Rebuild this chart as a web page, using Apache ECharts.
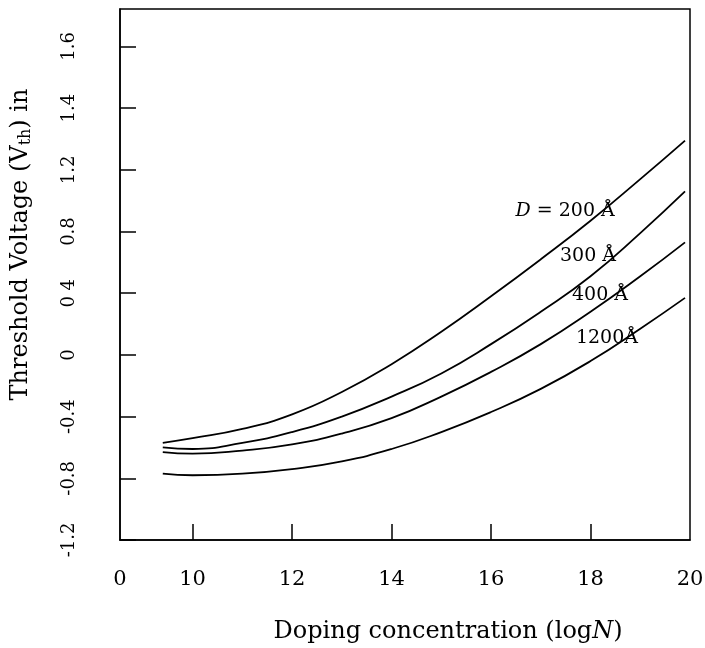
<!DOCTYPE html>
<html>
<head>
<meta charset="utf-8">
<script src="https://cdn.jsdelivr.net/npm/echarts@6/dist/echarts.min.js"></script>
<style>
  html, body { margin: 0; padding: 0; background: #fff; }
  #main { width: 705px; height: 648px; }
</style>
</head>
<body>
<div id="main"></div>
<script>
// doping concentration (logN) sample points
var logN = [9.4, 10, 11, 12, 13, 14, 15, 16, 17, 18, 19, 19.9];

// threshold voltage for each oxide thickness
var vth200  = [-0.57, -0.54, -0.48, -0.385, -0.24, -0.06, 0.15, 0.38, 0.62, 0.87, 1.14, 1.39];
var vth300  = [-0.60, -0.61, -0.57, -0.50, -0.40, -0.27, -0.12, 0.07, 0.28, 0.51, 0.79, 1.06];
var vth400  = [-0.63, -0.64, -0.62, -0.58, -0.51, -0.41, -0.27, -0.11, 0.07, 0.28, 0.51, 0.73];
var vth1200 = [-0.77, -0.78, -0.77, -0.74, -0.69, -0.61, -0.50, -0.37, -0.22, -0.04, 0.17, 0.37];

// tick labels as printed on the figure
var xTickVals = [10, 12, 14, 16, 18];
var xLabelTexts = ['0', '10', '12', '14', '16', '18', '20'];
var yTickVals = [-1.2, -0.8, -0.4, 0, 0.4, 0.8, 1.2, 1.6, 2.0];
var yTickLabels = ['-1.2', '-0.8', '-0.4', '0', '0 4', '0.8', '1.2', '1.4', '1.6'];

var curveNames = ['200', '300', '400', '1200'];

var xBreak = 8.54;   // left end of the broken axis, printed as "0"
var xLabelVals = [xBreak].concat(xTickVals, [20]);

var FONT = 'DejaVu Serif';

function pairs(ys) {
  return logN.map(function (x, i) { return [x, ys[i]]; });
}

function pickLabel(vals, texts, v) {
  for (var i = 0; i < vals.length; i++) {
    if (Math.abs(vals[i] - v) < 1e-6) return texts[i];
  }
  return '';
}

var labelSpots = {
  '200':  { coord: [17.49, 0.93], text: '{i|D} = 200 Å' },
  '300':  { coord: [17.95, 0.64], text: '300 Å' },
  '400':  { coord: [18.19, 0.39], text: '400 Å' },
  '1200': { coord: [18.33, 0.11], text: '1200Å' }
};

var allData = { '200': vth200, '300': vth300, '400': vth400, '1200': vth1200 };

var series = curveNames.map(function (nm) {
  var spot = labelSpots[nm];
  return {
    name: nm + ' Å',
    type: 'line',
    data: pairs(allData[nm]),
    smooth: 0.5,
    showSymbol: false,
    lineStyle: { color: '#000', width: 1.8 },
    markPoint: {
      symbol: 'circle',
      symbolSize: 0,
      silent: true,
      data: [{ coord: spot.coord }],
      label: {
        show: true,
        position: 'inside',
        formatter: spot.text,
        color: '#000',
        fontFamily: FONT,
        fontSize: 19,
        rich: { i: { fontStyle: 'italic', fontFamily: FONT, fontSize: 19, color: '#000' } }
      }
    }
  };
});

var chart = echarts.init(document.getElementById('main'));
chart.setOption({
  backgroundColor: '#fff',
  animation: false,
  grid: {
    left: 120, right: 15, top: 9, bottom: 108,
    outerBoundsMode: 'none',
    show: true, borderColor: '#000', borderWidth: 1.5
  },
  xAxis: {
    type: 'value',
    min: xBreak,
    max: 20,
    name: 'Doping concentration (log{i|N})',
    nameLocation: 'middle',
    nameGap: 80,
    nameTextStyle: {
      fontFamily: FONT, fontSize: 24, color: '#000',
      padding: [0, 0, 0, 86],
      rich: { i: { fontStyle: 'italic', fontFamily: FONT, fontSize: 24, color: '#000' } }
    },
    axisLine: { show: true, onZero: false, lineStyle: { color: '#000', width: 1.5 } },
    axisTick: { show: true, inside: true, length: 16, customValues: xTickVals, lineStyle: { color: '#000', width: 1.5 } },
    axisLabel: {
      customValues: xLabelVals,
      margin: 29,
      fontFamily: FONT, fontSize: 21, color: '#000',
      formatter: function (v) { return pickLabel(xLabelVals, xLabelTexts, v); }
    },
    splitLine: { show: false }
  },
  yAxis: {
    type: 'value',
    min: -1.2,
    max: 2.243,
    name: '{a|Threshold Voltage (V}{s|th}{a|) in}',
    nameLocation: 'middle',
    nameRotate: 90,
    nameGap: 86,
    nameTextStyle: {
      padding: [0, 0, 0, 60],
      rich: {
        a: { fontFamily: FONT, fontSize: 24, color: '#000' },
        s: { fontFamily: FONT, fontSize: 16, color: '#000', verticalAlign: 'bottom', padding: [10, 0, 0, 0] }
      }
    },
    axisLine: { show: true, onZero: false, lineStyle: { color: '#000', width: 1.5 } },
    axisTick: { show: true, inside: true, length: 16, customValues: yTickVals, lineStyle: { color: '#000', width: 1.5 } },
    axisLabel: {
      customValues: yTickVals,
      rotate: 90,
      margin: 42,
      fontFamily: FONT, fontSize: 18, color: '#000',
      formatter: function (v) { return pickLabel(yTickVals, yTickLabels, v); }
    },
    splitLine: { show: false }
  },
  series: series
});
</script>
</body>
</html>
